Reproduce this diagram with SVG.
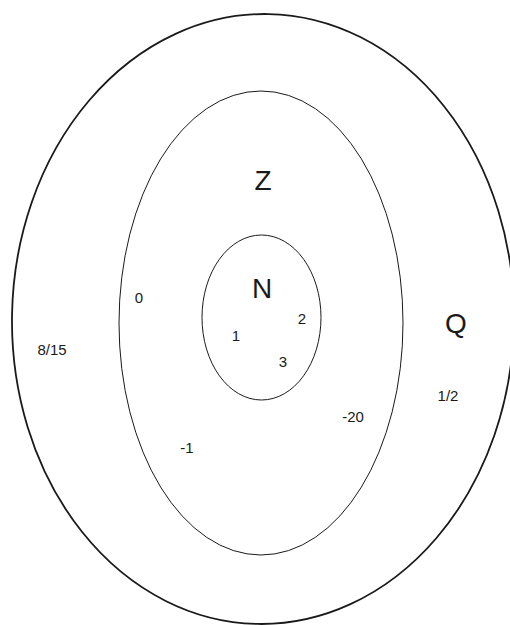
<svg xmlns="http://www.w3.org/2000/svg" width="510" height="625" viewBox="0 0 510 625">
<style>
.set{fill:none;stroke:#1a1a1a}
.big{font-family:"Liberation Sans",Arial,sans-serif;font-size:28px;fill:#1a1a1a;text-anchor:middle}
.sm{font-family:"Liberation Sans",Arial,sans-serif;font-size:15px;fill:#1a1a1a;text-anchor:middle}
</style>
<rect width="510" height="625" fill="#fff"/>
<g id="Q">
<ellipse class="set" cx="263" cy="319" rx="251" ry="305" transform="rotate(1 263 319)" stroke-width="1.8"/>
<text class="big" x="456" y="333">Q</text>
<text class="sm" x="52" y="355">8/15</text>
<text class="sm" x="448" y="401">1/2</text>
</g>
<g id="Z">
<ellipse class="set" cx="261" cy="323" rx="142" ry="232" stroke-width="1"/>
<text class="big" x="263" y="190">Z</text>
<text class="sm" x="139" y="303">0</text>
<text class="sm" x="353" y="422">-20</text>
<text class="sm" x="187" y="453">-1</text>
</g>
<g id="N">
<ellipse class="set" cx="261.5" cy="317.5" rx="59.5" ry="82.5" stroke-width="1"/>
<text class="big" x="262" y="298">N</text>
<text class="sm" x="236" y="341">1</text>
<text class="sm" x="302" y="324">2</text>
<text class="sm" x="283" y="367">3</text>
</g>
<g id="connectors"/>
</svg>
